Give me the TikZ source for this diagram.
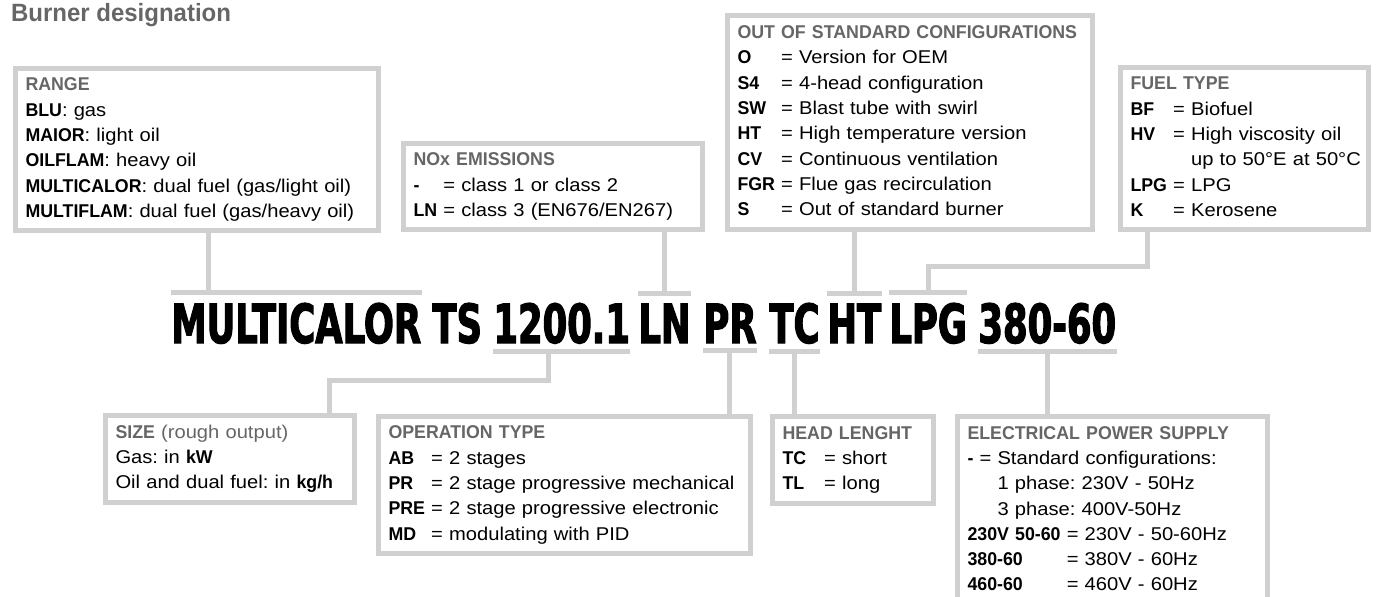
\documentclass[tikz,border=0pt]{standalone}
\usepackage{fontspec}
\setmainfont{Liberation Sans}[UprightFeatures={FakeStretch=1.09}, BoldFeatures={FakeStretch=0.96}]
\newfontfamily\codefont[FakeStretch=0.655, FakeBold=2]{DejaVu Sans}
\frenchspacing
\usetikzlibrary{positioning, calc}
\definecolor{cgrey}{HTML}{666666}
\definecolor{cline}{HTML}{D0D0D0}
\newcommand{\boxhead}[1]{\textcolor{cgrey}{\textbf{#1}}}
\tikzset{
  infobox/.style={draw=cline, line width=2.5pt, fill=white, anchor=north west, inner xsep=5.25pt, inner ysep=0pt, align=left, font=\fontsize{9.25}{12.65}\selectfont},
  link/.style={draw=cline, line width=2.5pt},
  code/.style={inner sep=0pt, anchor=base west, font=\codefont\bfseries\fontsize{27}{27}\selectfont},
}

\begin{document}
\begin{tikzpicture}[x=0.5pt, y=-0.5pt]
  \useasboundingbox (0,0) rectangle (1379,596);
  \node[anchor=base west, text=cgrey, font=\bfseries\fontsize{12.5}{14}\selectfont] (title) at (4,21) {Burner designation};
  % designation code
  \foreach \t/\x [count=\i] in {MULTICALOR/171, TS/432, 1200.1/493, LN/638, PR/703, TC/769, HT/827, LPG/889, 380-60/978} \node[code] (w\i) at (\x,343) {\t};
  \foreach \w in {1,4,7,8} \draw[link] ([yshift=5pt]w\w.north west) -- ([yshift=5pt]w\w.north east);
  \foreach \w in {3,5,6,9} \draw[link] ([yshift=-3.5pt]w\w.south west) -- ([yshift=-3.5pt]w\w.south east);
  % boxes above
  \node[infobox, text width=171pt, minimum height=81pt] (range) at (12.5,65.5) {\begin{tabular}{@{}l@{}}
    \boxhead{RANGE}\\
    \textbf{BLU}: gas\\
    \textbf{MAIOR}: light oil\\
    \textbf{OILFLAM}: heavy oil\\
    \textbf{MULTICALOR}: dual fuel (gas/light oil)\\
    \textbf{MULTIFLAM}: dual fuel (gas/heavy oil)
  \end{tabular}};
  \node[infobox, text width=139pt, minimum height=43pt] (nox) at (400.5,140.5) {\begin{tabular}{@{}l@{\ }l@{}}
    \multicolumn{2}{@{}l@{}}{\boxhead{NOx EMISSIONS}}\\
    \textbf{-} & = class 1 or class 2\\
    \textbf{LN} & = class 3 (EN676/EN267)
  \end{tabular}};
  \node[infobox, text width=172pt, minimum height=107pt] (outstd) at (724.5,12.5) {\begin{tabular}{@{}l@{\ }l@{}}
    \multicolumn{2}{@{}l@{}}{\boxhead{OUT OF STANDARD CONFIGURATIONS}}\\
    \textbf{O} & = Version for OEM\\
    \textbf{S4} & = 4-head configuration\\
    \textbf{SW} & = Blast tube with swirl\\
    \textbf{HT} & = High temperature version\\
    \textbf{CV} & = Continuous ventilation\\
    \textbf{FGR} & = Flue gas recirculation\\
    \textbf{S} & = Out of standard burner
  \end{tabular}};
  \node[infobox, text width=113.5pt, minimum height=81pt] (fuel) at (1117.5,64.5) {\begin{tabular}{@{}l@{\ }l@{}}
    \multicolumn{2}{@{}l@{}}{\boxhead{FUEL TYPE}}\\
    \textbf{BF} & = Biofuel\\
    \textbf{HV} & = High viscosity oil\\
     & \phantom{= }up to 50°E at 50°C\\
    \textbf{LPG} & = LPG\\
    \textbf{K} & = Kerosene
  \end{tabular}};
  % boxes below
  \node[infobox, text width=114pt, minimum height=43.5pt] (size) at (102.5,412.5) {\begin{tabular}{@{}l@{}}
    \boxhead{SIZE} \textcolor{cgrey}{(rough output)}\\
    Gas: in \textbf{kW}\\
    Oil and dual fuel: in \textbf{kg/h}
  \end{tabular}};
  \node[infobox, text width=175.5pt, minimum height=68.5pt] (optype) at (375.5,413.5) {\begin{tabular}{@{}l@{\ }l@{}}
    \multicolumn{2}{@{}l@{}}{\boxhead{OPERATION TYPE}}\\
    \textbf{AB} & = 2 stages\\
    \textbf{PR} & = 2 stage progressive mechanical\\
    \textbf{PRE} & = 2 stage progressive electronic\\
    \textbf{MD} & = modulating with PID
  \end{tabular}};
  \node[infobox, text width=70pt, minimum height=43.5pt] (headlen) at (769.5,413.5) {\begin{tabular}{@{}l@{\hspace{9pt}}l@{}}
    \multicolumn{2}{@{}l@{}}{\boxhead{HEAD LENGHT}}\\
    \textbf{TC} & = short\\
    \textbf{TL} & = long
  \end{tabular}};
  \node[infobox, text width=144.5pt, minimum height=94pt] (power) at (954.5,413.5) {\begin{tabular}{@{}l@{\ }l@{}}
    \multicolumn{2}{@{}l@{}}{\boxhead{ELECTRICAL POWER SUPPLY}}\\
    \multicolumn{2}{@{}l@{}}{\textbf{-} = Standard configurations:}\\
    \multicolumn{2}{@{}l@{}}{\phantom{\textbf{-} = }1 phase: 230V - 50Hz}\\
    \multicolumn{2}{@{}l@{}}{\phantom{\textbf{-} = }3 phase: 400V-50Hz}\\
    \textbf{230V 50-60} & = 230V - 50-60Hz\\
    \textbf{380-60} & = 380V - 60Hz\\
    \textbf{460-60} & = 460V - 60Hz
  \end{tabular}};
  % connectors
  \coordinate (t1) at ([xshift=18.5pt,yshift=5pt]w1.north west);
  \draw[link] (t1) -- (t1 |- range.south);
  \draw[link] ([yshift=5pt]w4.north) -- (w4.north |- nox.south);
  \draw[link] ([yshift=5pt]w7.north) -- (w7.north |- outstd.south);
  \draw[link] ([xshift=14.75pt]fuel.south west) -- ++(0,35) -| ([yshift=5pt]w8.north);
  \draw[link] ([xshift=-6.5pt,yshift=-3.5pt]w3.south) -- ++(0,29) -| ([xshift=50pt]size.north);
  \draw[link] ([yshift=-3.5pt]w5.south) -- (w5.south |- optype.north);
  \draw[link] ([yshift=-3.5pt]w6.south) -- (w6.south |- headlen.north);
  \draw[link] ([yshift=-3.5pt]w9.south) -- (w9.south |- power.north);
\end{tikzpicture}
\end{document}
